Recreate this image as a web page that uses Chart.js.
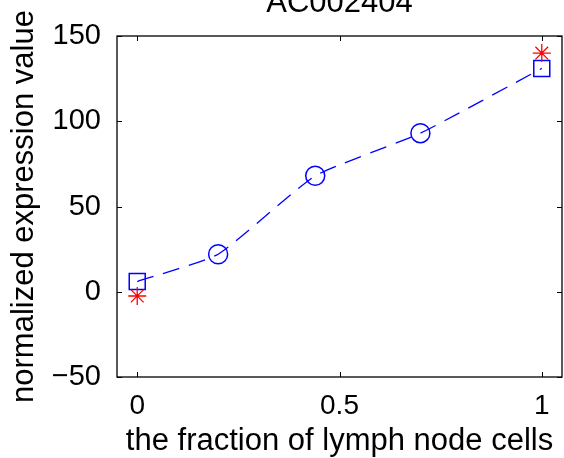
<!DOCTYPE html>
<html>
<head>
<meta charset="utf-8">
<script src="https://cdn.jsdelivr.net/npm/chart.js@4/dist/chart.umd.min.js"></script>
<style>
html,body{margin:0;padding:0;background:#fff;}
#wrap{width:564px;height:458px;position:relative;}
</style>
</head>
<body>
<div id="wrap"><canvas id="c" width="564" height="458"></canvas></div>
<script>
const titleText = 'AC002404';
const xLabel = 'the fraction of lymph node cells';
const yLabel = 'normalized expression value';
const xTicks = [0, 0.5, 1];
const yTicks = [-50, 0, 50, 100, 150];

const fitX = [0, 0.2, 0.44, 0.7, 1];
const fitY = [6, 22, 68, 93, 131];
const circleX = [0.2, 0.44, 0.7];
const circleY = [22, 68, 93];
const squareX = [0, 1];
const squareY = [6, 131];
const starX = [0, 1];
const starY = [-2.5, 140];

const FONT = "'Liberation Sans', Arial, Helvetica, sans-serif";
const toXY = (xs, ys) => xs.map((x, i) => ({x: x, y: ys[i]}));

const framePlugin = {
  id: 'frame',
  afterDraw(chart) {
    const ctx = chart.ctx, a = chart.chartArea;
    const xs = chart.scales.x, ys = chart.scales.y;
    ctx.save();
    ctx.strokeStyle = '#000';
    ctx.lineWidth = 1.3;
    ctx.strokeRect(a.left, a.top, a.right - a.left, a.bottom - a.top);
    ctx.lineWidth = 1;
    const tl = 5;
    ctx.beginPath();
    xTicks.forEach(v => {
      const p = Math.round(xs.getPixelForValue(v)) + 0.5;
      ctx.moveTo(p, a.bottom); ctx.lineTo(p, a.bottom - tl);
      ctx.moveTo(p, a.top); ctx.lineTo(p, a.top + tl);
    });
    yTicks.forEach(v => {
      const p = Math.round(ys.getPixelForValue(v)) + 0.5;
      ctx.moveTo(a.left, p); ctx.lineTo(a.left + tl, p);
      ctx.moveTo(a.right, p); ctx.lineTo(a.right - tl, p);
    });
    ctx.stroke();
    ctx.fillStyle = '#000';
    ctx.font = '31px ' + FONT;
    ctx.textAlign = 'center';
    ctx.textBaseline = 'alphabetic';
    ctx.fillText(titleText, (a.left + a.right) / 2, 12);
    ctx.restore();
  }
};

new Chart(document.getElementById('c'), {
  type: 'scatter',
  data: {
    datasets: [
      {
        type: 'line',
        data: toXY(fitX, fitY),
        borderColor: '#0000ff',
        borderWidth: 1.3,
        borderDash: [17, 10],
        pointRadius: 0,
        fill: false,
        tension: 0.15,
        order: 4
      },
      {
        data: toXY(circleX, circleY),
        pointStyle: 'circle',
        pointRadius: 9.5,
        borderColor: '#0000ff',
        backgroundColor: 'rgba(0,0,0,0)',
        borderWidth: 1.5,
        order: 3
      },
      {
        data: toXY(squareX, squareY),
        pointStyle: 'rect',
        pointRadius: 11.3,
        borderColor: '#0000ff',
        backgroundColor: 'rgba(0,0,0,0)',
        borderWidth: 1.5,
        order: 2
      },
      {
        data: toXY(starX, starY),
        pointStyle: 'star',
        pointRadius: 9,
        borderColor: '#ff0000',
        backgroundColor: 'rgba(0,0,0,0)',
        borderWidth: 1.3,
        order: 1
      }
    ]
  },
  options: {
    responsive: false,
    animation: false,
    events: [],
    layout: { autoPadding: false, padding: { top: 36, right: 2, left: 0, bottom: 0 } },
    plugins: { legend: { display: false }, tooltip: { enabled: false }, title: { display: false } },
    scales: {
      x: {
        type: 'linear',
        min: -0.05, max: 1.05,
        afterFit(s) { s.height = 81; s.paddingLeft = 0; s.paddingRight = 0; },
        afterBuildTicks(s) { s.ticks = xTicks.map(v => ({value: v})); },
        grid: { display: false, drawTicks: false },
        border: { display: false },
        ticks: {
          color: '#000', padding: 12,
          font: { family: FONT, size: 28 },
          maxRotation: 0, autoSkip: false,
          callback: v => String(v)
        },
        title: {
          display: true, text: xLabel, color: '#000',
          font: { family: FONT, size: 31 },
          padding: { top: 0, bottom: -2 }
        }
      },
      y: {
        type: 'linear',
        min: -50, max: 150,
        afterFit(s) { s.width = 117; s.paddingTop = 0; s.paddingBottom = 0; },
        afterBuildTicks(s) { s.ticks = yTicks.map(v => ({value: v})); },
        grid: { display: false, drawTicks: false },
        border: { display: false },
        ticks: {
          color: '#000', padding: 16,
          font: { family: FONT, size: 29 },
          autoSkip: false,
          callback: v => (v < 0 ? '\u2212' + Math.abs(v) : String(v))
        },
        title: {
          display: true, text: yLabel, color: '#000',
          font: { family: FONT, size: 31 },
          padding: { top: 6, bottom: 0 }
        }
      }
    }
  },
  plugins: [framePlugin]
});
</script>
</body>
</html>
